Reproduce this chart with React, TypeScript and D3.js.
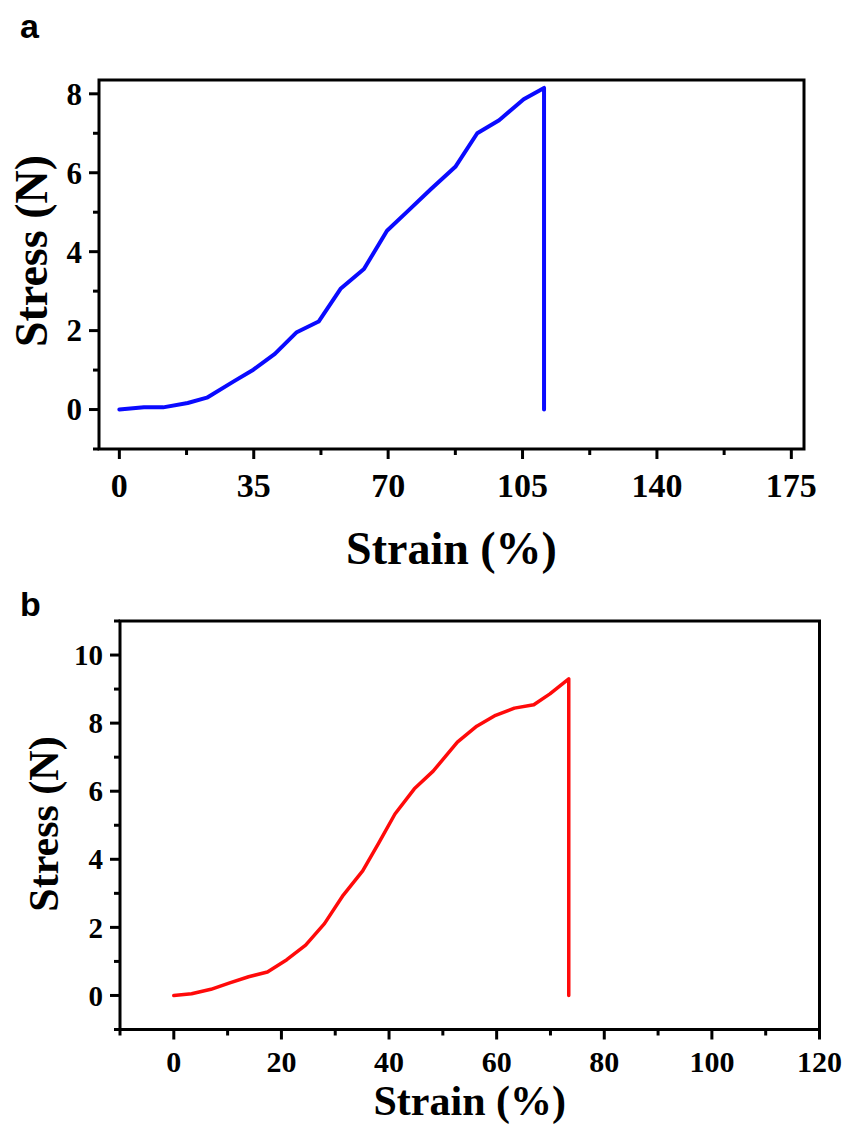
import React from 'react'
import * as d3 from 'd3'

// panel a: blue curve
const strainA = [0, 6.4, 11.4, 17.8, 22.8, 29.9, 34.9, 40.5, 46.2, 51.9, 57.6, 63.7, 69.7, 74.7, 81.1, 87.5, 93.2, 98.9, 105.3, 110.6, 110.6]
const stressA = [0, 0.055, 0.055, 0.165, 0.3, 0.72, 1.01, 1.41, 1.96, 2.23, 3.06, 3.56, 4.53, 4.99, 5.58, 6.15, 7.0, 7.33, 7.86, 8.15, 0]
const xTicksA = [0, 35, 70, 105, 140, 175]
const yTicksA = [0, 2, 4, 6, 8]

// panel b: red curve
const strainB = [0, 3.3, 6.9, 10.4, 13.9, 17.4, 21.0, 24.5, 28.0, 31.5, 35.1, 38.1, 41.1, 44.7, 48.2, 52.7, 56.3, 59.8, 63.3, 66.9, 69.9, 73.4, 73.4]
const stressB = [0, 0.05, 0.18, 0.37, 0.55, 0.69, 1.05, 1.48, 2.11, 2.95, 3.66, 4.48, 5.33, 6.07, 6.59, 7.44, 7.91, 8.23, 8.44, 8.54, 8.86, 9.3, 0]
const xTicksB = [0, 20, 40, 60, 80, 100, 120]
const yTicksB = [0, 2, 4, 6, 8, 10]

const serif = '"Liberation Serif", "Times New Roman", serif'

function Panel(props) {
  const { letter, letterX, letterY, left, right, top, bottom, xDomain, yDomain, xs, ys, xTicks, yTicks,
    xMinorStep, yMinorStep, color, lineWidth, xLabelSize, yLabelSize, titleSize, xLabelOffset,
    xTitleY, yTitleX, yTitleY } = props

  const x = d3.scaleLinear().domain(xDomain).range([left, right])
  const y = d3.scaleLinear().domain(yDomain).range([bottom, top])

  const pts = xs.map((v, i) => [v, ys[i]])
  const line = d3.line().x(d => x(d[0])).y(d => y(d[1]))

  // minor ticks sit halfway between majors
  const xMinor = d3.range(Math.ceil(xDomain[0] / xMinorStep) * xMinorStep, xDomain[1] + 0.001, xMinorStep)
    .filter(v => !xTicks.some(t => Math.abs(t - v) < 1e-6))
  const yMinor = d3.range(Math.ceil(yDomain[0] / yMinorStep) * yMinorStep, yDomain[1] + 0.001, yMinorStep)
    .filter(v => !yTicks.some(t => Math.abs(t - v) < 1e-6))

  return (
    <g>
      <text x={letterX} y={letterY} fontFamily='"Liberation Sans", Arial, sans-serif' fontWeight="bold" fontSize={34}>{letter}</text>

      <path d={line(pts)} fill="none" stroke={color} strokeWidth={lineWidth} strokeLinejoin="round" strokeLinecap="round" />

      <rect x={left} y={top} width={right - left} height={bottom - top} fill="none" stroke="#000" strokeWidth={3} />

      {xTicks.map(t => (
        <g key={'xt' + t}>
          <line x1={x(t)} x2={x(t)} y1={bottom} y2={bottom + 10} stroke="#000" strokeWidth={3} />
          <text x={x(t)} y={bottom + xLabelOffset} textAnchor="middle" fontFamily={serif} fontWeight="bold" fontSize={xLabelSize}>{t}</text>
        </g>
      ))}
      {xMinor.map(t => (
        <line key={'xm' + t} x1={x(t)} x2={x(t)} y1={bottom} y2={bottom + 6} stroke="#000" strokeWidth={3} />
      ))}

      {yTicks.map(t => (
        <g key={'yt' + t}>
          <line x1={left - 10} x2={left} y1={y(t)} y2={y(t)} stroke="#000" strokeWidth={3} />
          <text x={left - 17} y={y(t)} dy="0.35em" textAnchor="end" fontFamily={serif} fontWeight="bold" fontSize={yLabelSize}>{t}</text>
        </g>
      ))}
      {yMinor.map(t => (
        <line key={'ym' + t} x1={left - 6} x2={left} y1={y(t)} y2={y(t)} stroke="#000" strokeWidth={3} />
      ))}

      <text x={(left + right) / 2} y={xTitleY} textAnchor="middle" fontFamily={serif} fontWeight="bold" fontSize={titleSize}>Strain (%)</text>
      <text transform={`translate(${yTitleX},${yTitleY}) rotate(-90)`} textAnchor="middle" fontFamily={serif} fontWeight="bold" fontSize={titleSize}>Stress (N)</text>
    </g>
  )
}

export default function App() {
  return (
    <svg width={849} height={1131} style={{ position: 'absolute', left: 0, top: 0, background: '#fff' }}>
      <Panel letter="a" letterX={20} letterY={38}
        left={99} right={804} top={80} bottom={449}
        xDomain={[-5.3, 178.3]} yDomain={[-1, 8.35]}
        xs={strainA} ys={stressA} xTicks={xTicksA} yTicks={yTicksA}
        xMinorStep={17.5} yMinorStep={1}
        color="#0a0aff" lineWidth={4}
        xLabelSize={34} yLabelSize={31} titleSize={46} xLabelOffset={48}
        xTitleY={564} yTitleX={47} yTitleY={251} />
      <Panel letter="b" letterX={20} letterY={616}
        left={120} right={819.5} top={621} bottom={1029.5}
        xDomain={[-10, 120]} yDomain={[-1, 11]}
        xs={strainB} ys={stressB} xTicks={xTicksB} yTicks={yTicksB}
        xMinorStep={10} yMinorStep={1}
        color="#ff0a0a" lineWidth={3.5}
        xLabelSize={30} yLabelSize={29} titleSize={42} xLabelOffset={42}
        xTitleY={1115} yTitleX={58} yTitleY={824} />
    </svg>
  )
}
